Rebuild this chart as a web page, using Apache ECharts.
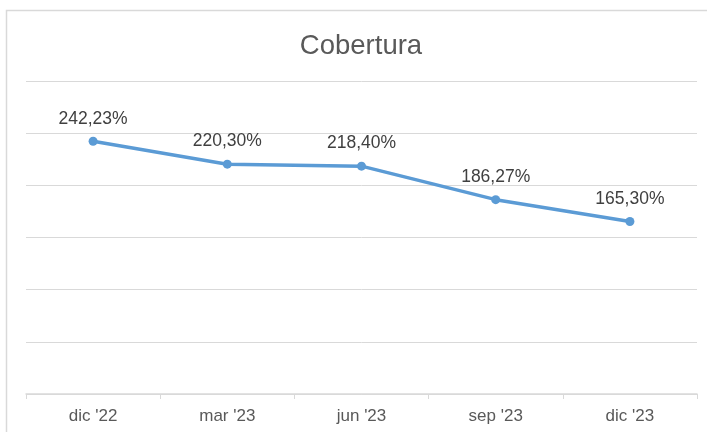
<!DOCTYPE html>
<html><head><meta charset="utf-8">
<script src="https://cdn.jsdelivr.net/npm/echarts@6/dist/echarts.min.js"></script>
<style>html,body{margin:0;padding:0;background:#fff}#c{width:707px;height:432px}</style>
</head><body><div id="c"></div>
<script>
const categories = ["dic '22", "mar '23", "jun '23", "sep '23", "dic '23"];
const cobertura = [242.23, 220.30, 218.40, 186.27, 165.30];
const titleText = "Cobertura";

const chart = echarts.init(document.getElementById('c'), null, {renderer: 'canvas'});
chart.setOption({
  animation: false,
  backgroundColor: '#fff',
  graphic: [{
    type: 'polyline', silent: true,
    shape: {points: [[6.5, 432], [6.5, 10.5], [707, 10.5]]},
    style: {stroke: '#d9d9d9', lineWidth: 1.5, fill: null}
  }],
  title: {
    text: titleText, left: 356, top: 27, textAlign: 'center',
    textStyle: {fontFamily: 'Liberation Sans, Arial', fontSize: 27.5, fontWeight: 'normal', color: '#595959'}
  },
  grid: {left: 26, right: 10, top: 81, bottom: 38, containLabel: false},
  xAxis: {
    type: 'category', data: categories, boundaryGap: true,
    axisLine: {lineStyle: {color: '#d9d9d9', width: 1.5}},
    axisTick: {show: true, length: 5, inside: false, lineStyle: {color: '#d9d9d9'}},
    axisLabel: {color: '#595959', fontFamily: 'Liberation Sans, Arial', fontSize: 17, margin: 14}
  },
  yAxis: {
    type: 'value', min: 0, max: 300, interval: 50,
    axisLabel: {show: false}, axisLine: {show: false}, axisTick: {show: false},
    splitLine: {lineStyle: {color: '#d9d9d9', width: 1}}
  },
  series: [{
    type: 'line', data: cobertura,
    symbol: 'circle', symbolSize: 9,
    lineStyle: {color: '#5b9bd5', width: 3.5},
    itemStyle: {color: '#5b9bd5'},
    label: {
      show: true, position: 'top', distance: 9,
      color: '#404040', fontFamily: 'Liberation Sans, Arial', fontSize: 17.5,
      formatter: p => p.value.toFixed(2).replace('.', ',') + '%'
    }
  }]
});
</script></body></html>
